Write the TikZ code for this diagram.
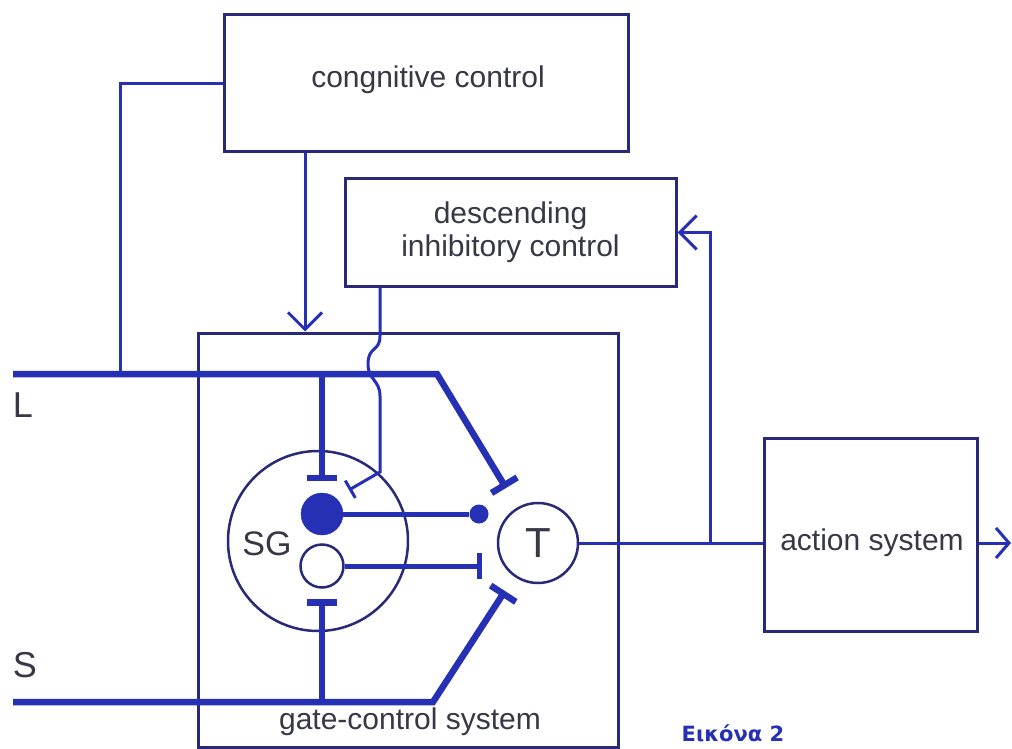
\documentclass[tikz,border=0pt]{standalone}
\usepackage{fontspec}
\setmainfont{Liberation Sans}
\newfontfamily\grkfont{DejaVu Sans}
\usetikzlibrary{arrows.meta}
\definecolor{lineblue}{RGB}{38,48,180}
\definecolor{boxnavy}{RGB}{40,42,120}
\definecolor{txtgray}{RGB}{55,55,70}
\begin{document}
\begin{tikzpicture}[x=1pt,y=-1pt,
  box/.style={draw=boxnavy, line width=3pt, inner sep=0pt, text=txtgray, font=\fontsize{30}{33}\selectfont, align=center},
  lbl/.style={text=txtgray, inner sep=0pt},
  nerve/.style={draw=lineblue, line width=6.5pt},
  fiber/.style={draw=lineblue, line width=3pt},
  ring/.style={circle, draw=boxnavy, line width=2.5pt, inner sep=0pt},
  inhib/.style={-{Bar[width=30pt]}},
  barb/.style={-{Straight Barb[length=17pt,width=34pt]}}
]
\useasboundingbox (0,0) rectangle (1012,749);
\fill[white] (0,0) rectangle (1012,749);

% boxes
\node[box, minimum width=404pt, minimum height=137pt] (cog) at (426,83.5) {};
\node[lbl, font=\fontsize{30}{33}\selectfont] (coglbl) at (428,80) {congnitive control};
\node[box, minimum width=331pt, minimum height=108pt] (desc) at (510.5,232.5) {descending\\inhibitory control};
\node[box, minimum width=420pt, minimum height=414pt] (gate) at (408,540) {};
\node[lbl, font=\fontsize{30}{33}\selectfont] (gatelbl) at (410,722) {gate-control system};
\node[box, minimum width=213pt, minimum height=193pt] (act) at (870.5,534.5) {};
\node[lbl, font=\fontsize{30}{33}\selectfont] (actlbl) at (872,543) {action system};

% circles
\node[ring, minimum size=180pt] (sg) at (318,541) {};
\node[lbl, font=\fontsize{34}{36}\selectfont] (sglbl) at (267,544) {SG};
\node[circle, fill=lineblue, draw=lineblue, minimum size=42pt, inner sep=0pt] (fill) at (322,514) {};
\node[ring, minimum size=43pt] (open) at (322,566) {};
\node[ring, minimum size=80pt, text=txtgray, font=\fontsize{42}{44}\selectfont] (T) at (538,543) {T};
\node[circle, fill=lineblue, minimum size=19pt, inner sep=0pt] (dot) at (479,514) {};

% labels L and S
\node[lbl, font=\fontsize{36}{38}\selectfont] (Llbl) at (23,405) {L};
\node[lbl, font=\fontsize{36}{38}\selectfont] (Slbl) at (25,665) {S};

% coordinates
\coordinate (Lstart) at (13,374);
\coordinate (Lbend) at (437,374);
\coordinate (Lend) at (506,488);
\coordinate (Ljoin) at (120,374);
\coordinate (Lbr) at (322,374);
\coordinate (Lbrend) at (322,481);
\coordinate (Sstart) at (13,702);
\coordinate (Sbend) at (433,702);
\coordinate (Send) at (505,591);
\coordinate (Sbr) at (322,702);
\coordinate (Sbrend) at (322,599);
\coordinate (cogx) at (305,0);
\coordinate (descx) at (380,0);
\coordinate (dend) at (349,490);
\coordinate (openend) at (482,566);
\coordinate (fb) at (710,543);
\coordinate (out) at (1011,543);

% thick afferent lines
\draw[nerve, inhib] (Lstart) -- (Lbend) -- (Lend);
\draw[nerve, inhib] (Lbr) -- (Lbrend);
\draw[nerve, inhib] (Sstart) -- (Sbend) -- (Send);
\draw[nerve, inhib] (Sbr) -- (Sbrend);

% SG outputs
\draw[nerve, line width=5pt] (fill.center) -- (dot);
\draw[nerve, line width=5pt, -{Bar[width=26pt]}] (open.east) -- (openend);

% cognitive control connections
\draw[fiber] (cog.west) -| (Ljoin);
\draw[fiber, barb] (cog.south -| cogx) -- (gate.north -| cogx);

% descending inhibitory line with hop
\draw[fiber, -{Bar[width=20pt]}] (desc.south -| descx) -- (380,336)
  .. controls (380,352) and (368,346) .. (368,364)
  .. controls (368,380) and (380,380) .. (380,396) -- (380,472) -- (dend);

% T output
\draw[fiber] (T.east) -- (T.east -| act.west);
\draw[fiber, barb] (fb) |- (desc.east);
\draw[fiber, -{Straight Barb[length=13pt,width=30pt]}] (act.east |- T.east) -- (out);

% caption
\node[inner sep=0pt, text=lineblue, font=\grkfont\bfseries\fontsize{21}{23}\selectfont] (cap) at (733,733) {Εικόνα 2};
\end{tikzpicture}
\end{document}
